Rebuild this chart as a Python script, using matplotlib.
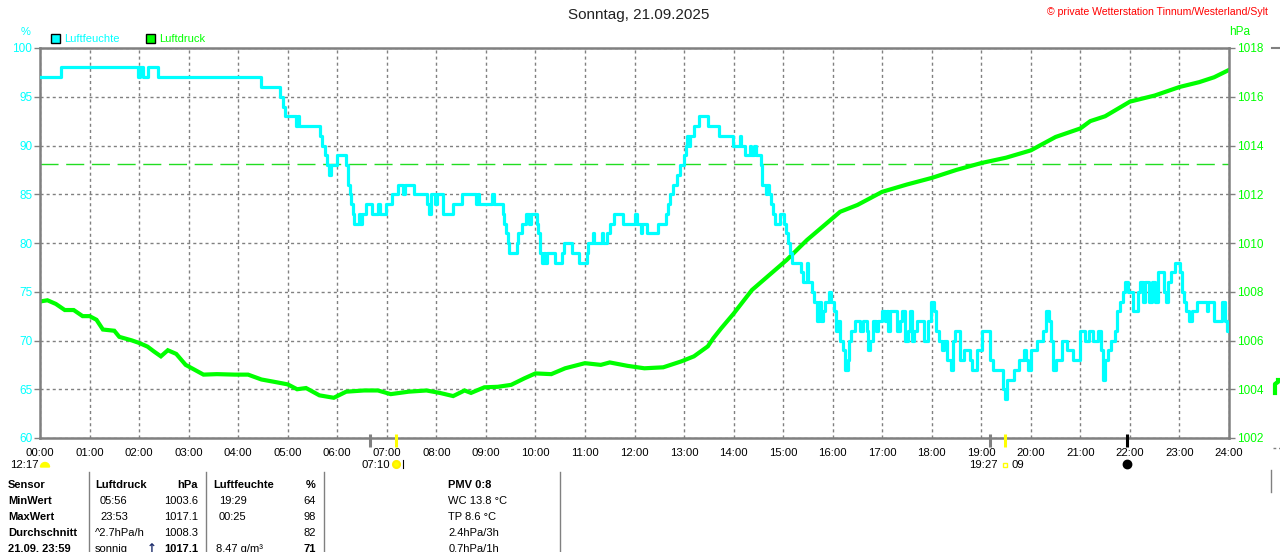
import matplotlib
matplotlib.use("Agg")
import matplotlib.pyplot as plt
import matplotlib.transforms as mtransforms
from matplotlib.patches import Rectangle, Wedge, Circle

plt.rcParams['font.family'] = ['Liberation Sans', 'DejaVu Sans']

# ---------------- data ----------------
hours = list(range(0, 25))
hour_labels = [f"{h:02d}:00" for h in hours]

hum_t = [0.00, 0.42, 1.98, 2.02, 2.08, 2.18, 2.38, 4.46, 4.85, 4.90, 4.95, 5.17, 5.20, 5.22,
         5.65, 5.70, 5.75, 5.80, 5.84, 5.88, 5.99, 6.17, 6.22, 6.25, 6.28, 6.31, 6.34, 6.44,
         6.46, 6.50, 6.58, 6.71, 6.83, 6.86, 6.98, 7.10, 7.22, 7.33, 7.37, 7.55, 7.82, 7.85,
         7.90, 7.98, 8.02, 8.13, 8.34, 8.51, 8.80, 8.84, 8.87, 9.13, 9.17, 9.34, 9.37, 9.41,
         9.44, 9.47, 9.63, 9.65, 9.72, 9.82, 9.88, 9.91, 10.03, 10.06, 10.09, 10.13, 10.18,
         10.20, 10.23, 10.40, 10.53, 10.58, 10.73, 10.87, 11.05, 11.07, 11.17, 11.19, 11.34,
         11.36, 11.44, 11.50, 11.58, 11.77, 12.02, 12.05, 12.13, 12.16, 12.25, 12.47, 12.63,
         12.68, 12.72, 12.78, 12.85, 12.92, 12.99, 13.04, 13.06, 13.11, 13.13, 13.20, 13.31,
         13.49, 13.71, 13.98, 14.12, 14.15, 14.23, 14.33, 14.36, 14.42, 14.45, 14.55, 14.58,
         14.66, 14.68, 14.71, 14.76, 14.79, 14.83, 14.93, 15.02, 15.06, 15.10, 15.13, 15.17,
         15.37, 15.41, 15.48, 15.51, 15.58, 15.63, 15.68, 15.73, 15.76, 15.81, 15.85, 15.92,
         15.96, 16.02, 16.06, 16.11, 16.14, 16.20, 16.24, 16.30, 16.32, 16.36, 16.45, 16.55,
         16.62, 16.69, 16.71, 16.76, 16.82, 16.87, 16.92, 16.99, 17.05, 17.09, 17.12, 17.16,
         17.29, 17.35, 17.40, 17.45, 17.52, 17.56, 17.60, 17.65, 17.71, 17.84, 17.93, 17.98,
         18.05, 18.09, 18.15, 18.20, 18.25, 18.30, 18.38, 18.42, 18.46, 18.58, 18.66, 18.77,
         18.82, 18.92, 19.02, 19.18, 19.23, 19.43, 19.48, 19.52, 19.66, 19.76, 19.86, 19.90,
         19.95, 20.00, 20.12, 20.25, 20.31, 20.37, 20.41, 20.45, 20.50, 20.63, 20.72, 20.86,
         21.00, 21.10, 21.18, 21.26, 21.36, 21.41, 21.45, 21.50, 21.55, 21.62, 21.69, 21.74,
         21.80, 21.86, 21.91, 21.97, 22.07, 22.16, 22.20, 22.27, 22.31, 22.38, 22.44, 22.50,
         22.56, 22.68, 22.72, 22.76, 22.82, 22.90, 23.02, 23.06, 23.10, 23.14, 23.20, 23.25,
         23.36, 23.55, 23.58, 23.70, 23.86, 23.92, 23.96, 24.00]
hum_v = [97, 98, 97, 98, 97, 98, 97, 96, 95, 94, 93, 92, 93, 92,
         91, 90, 89, 88, 87, 88, 89, 88, 86, 85, 84, 83, 82, 83,
         82, 83, 84, 83, 84, 83, 84, 85, 86, 85, 86, 85, 84, 83,
         85, 84, 85, 83, 84, 85, 84, 85, 84, 85, 84, 83, 82, 81,
         80, 79, 80, 81, 82, 83, 82, 83, 82, 81, 79, 78, 79,
         78, 79, 78, 79, 80, 79, 78, 79, 80, 81, 80, 81,
         80, 81, 82, 83, 82, 83, 82, 81, 82, 81, 82, 83,
         84, 85, 86, 87, 88, 89, 90, 91, 90, 91, 92, 93,
         92, 91, 90, 91, 90, 89, 90, 89, 90, 89, 88, 86,
         85, 86, 85, 84, 83, 82, 83, 82, 81, 80, 79, 78,
         77, 76, 78, 76, 75, 74, 72, 74, 72, 73, 74, 75,
         74, 73, 71, 72, 70, 69, 67, 68, 70, 71, 72, 71,
         72, 71, 69, 70, 72, 71, 72, 73, 72, 73, 71, 73,
         71, 72, 73, 70, 71, 73, 70, 71, 72, 70, 72, 74,
         73, 71, 70, 69, 70, 68, 67, 70, 71, 68, 69, 68,
         67, 69, 71, 68, 67, 65, 64, 66, 67, 68, 69, 68,
         67, 69, 70, 71, 73, 72, 70, 67, 68, 70, 69, 68,
         71, 70, 71, 70, 71, 69, 66, 68, 69, 70, 71, 73,
         74, 75, 76, 75, 73, 75, 76, 74, 76, 74, 76, 74,
         77, 75, 74, 76, 77, 78, 77, 75, 74, 73, 72, 73,
         74, 73, 74, 72, 74, 72, 71, 71]

press_t = [0.0, 0.15, 0.32, 0.5, 0.68, 0.86, 1.0, 1.14, 1.27, 1.5, 1.6, 1.86, 2.0, 2.17,
           2.3, 2.44, 2.58, 2.75, 2.94, 3.12, 3.3, 3.57, 3.93, 4.2, 4.47, 4.74, 5.0, 5.19,
           5.37, 5.64, 5.93, 6.18, 6.54, 6.82, 7.08, 7.44, 7.8, 8.07, 8.34, 8.57, 8.7, 8.97,
           9.24, 9.51, 9.78, 10.0, 10.32, 10.6, 11.0, 11.32, 11.5, 11.86, 12.2, 12.58, 12.94,
           13.2, 13.48, 13.59, 13.75, 13.9, 14.0, 14.37, 15.07, 15.48, 16.15, 16.5, 17.0,
           17.5, 18.0, 18.5, 19.0, 19.5, 20.0, 20.5, 21.0, 21.2, 21.5, 22.0, 22.5, 23.0,
           23.4, 23.7, 24.0]
press_v = [1007.6, 1007.65, 1007.5, 1007.25, 1007.25, 1007.0, 1007.0, 1006.85, 1006.45,
           1006.4, 1006.15, 1006.0, 1005.9, 1005.75, 1005.55, 1005.35, 1005.6, 1005.45,
           1005.0, 1004.8, 1004.6, 1004.62, 1004.6, 1004.6, 1004.4, 1004.3, 1004.2, 1004.0,
           1004.05, 1003.75, 1003.65, 1003.9, 1003.95, 1003.95, 1003.8, 1003.9, 1003.95,
           1003.85, 1003.72, 1003.95, 1003.85, 1004.08, 1004.1, 1004.18, 1004.45, 1004.65,
           1004.62, 1004.86, 1005.07, 1005.0, 1005.1, 1004.96, 1004.86, 1004.9, 1005.14,
           1005.35, 1005.76, 1006.09, 1006.5, 1006.86, 1007.1, 1008.07, 1009.3, 1010.12,
           1011.28, 1011.56, 1012.1, 1012.4, 1012.67, 1013.0, 1013.28, 1013.5, 1013.8,
           1014.35, 1014.7, 1015.0, 1015.2, 1015.8, 1016.05, 1016.4, 1016.6, 1016.8, 1017.1]

std_pressure = 1013.25
hum_ticks = [60, 65, 70, 75, 80, 85, 90, 95, 100]
press_ticks = [1002, 1004, 1006, 1008, 1010, 1012, 1014, 1016, 1018]

# sun/moon events under the time axis (hours)
event_t = [6.66, 7.18, 19.18, 19.47, 21.94]
event_c = ['#808080', '#ffff00', '#808080', '#ffff00', '#000000']

table_rows = [
    ["Sensor", "Luftdruck", "hPa", "Luftfeuchte", "%", "PMV 0:8"],
    ["MinWert", "05:56", "1003.6", "19:29", "64", "WC 13.8 °C"],
    ["MaxWert", "23:53", "1017.1", "00:25", "98", "TP 8.6 °C"],
    ["Durchschnitt", "^2.7hPa/h", "1008.3", "", "82", "2.4hPa/3h"],
    ["21.09. 23:59", "sonnig", "1017.1", "8.47 g/m³", "71", "0.7hPa/1h"],
]

CYAN = '#00ffff'
GREEN = '#00ff00'
GRAY = '#808080'

W, H = 1280, 552
fig = plt.figure(figsize=(W / 100, H / 100), dpi=100)
fig.patch.set_facecolor('white')

L, R, T, B = 40, 1229, 48, 438
rect = [L / W, 1 - B / H, (R - L) / W, (B - T) / H]
ax2 = fig.add_axes(rect)   # pressure (bottom layer, with grid)
ax = fig.add_axes(rect)    # humidity (top layer)
ax.set_zorder(3)
ax2.set_zorder(2)
ax.patch.set_visible(False)

# pressure axis
ax2.set_xlim(0, 24)
ax2.set_ylim(1002, 1018)
ax2.set_xticks(hours)
ax2.set_yticks(press_ticks)
ax2.grid(True, color=GRAY, linestyle=(0, (2.2, 2.2)), linewidth=1.0)
ax2.set_axisbelow(True)
ax2.plot(press_t, press_v, color=GREEN, linewidth=3.0, solid_joinstyle='miter', zorder=3)
ax2.axhline(std_pressure, color='#22dd22', linewidth=1.0, dashes=(13, 5.5), zorder=2)
ax2.yaxis.tick_right()
ax2.tick_params(axis='y', colors=GRAY, labelcolor=GREEN, labelsize=8.5, length=4,
                width=1, direction='out', pad=1.5)
ax2.tick_params(axis='x', length=0, labelbottom=False)
for s in ax2.spines.values():
    s.set_visible(False)

# humidity axis
ax.set_xlim(0, 24)
ax.set_ylim(60, 100)
ax.step(hum_t, hum_v, where='post', color=CYAN, linewidth=2.3, zorder=4)
ax.set_yticks(hum_ticks)
ax.set_xticks(hours)
ax.set_xticklabels(hour_labels)
ax.tick_params(axis='y', colors=GRAY, labelcolor=CYAN, labelsize=8.5, length=4,
               width=1, direction='out', pad=1.5)
ax.tick_params(axis='x', length=0, labelsize=8.2, labelcolor='black', pad=7)
for s in ax.spines.values():
    s.set_color(GRAY)
    s.set_linewidth(1.8)

# event marks under time axis
trans = mtransforms.blended_transform_factory(ax.transData, ax.transAxes)
for t, c in zip(event_t, event_c):
    ax.plot([t, t], [0.01, -0.023], transform=trans, color=c, linewidth=2.2,
            clip_on=False, zorder=6, solid_capstyle='butt')

# overlay in pixel coordinates for texts / icons
ov = fig.add_axes([0, 0, 1, 1])
ov.set_xlim(0, W)
ov.set_ylim(H, 0)
ov.axis('off')
ov.patch.set_visible(False)
ov.set_zorder(5)

ov.text(639, 15, "Sonntag, 21.09.2025", ha='center', va='center', fontsize=11, color='#222222')
ov.text(1268, 12, "© private Wetterstation Tinnum/Westerland/Sylt", ha='right', va='center',
        fontsize=7.6, color='#ff0000')
ov.text(26, 32, "%", ha='center', va='center', fontsize=8, color=CYAN)
ov.text(1240, 32, "hPa", ha='center', va='center', fontsize=8.5, color=GREEN)

ov.add_patch(Rectangle((50.5, 33.5), 9, 9, facecolor=CYAN, edgecolor='black', linewidth=1))
ov.text(64, 38.5, "Luftfeuchte", ha='left', va='center', fontsize=8, color=CYAN)
ov.add_patch(Rectangle((145.5, 33.5), 9, 9, facecolor=GREEN, edgecolor='black', linewidth=1))
ov.text(159, 38.5, "Luftdruck", ha='left', va='center', fontsize=8, color=GREEN)

# marks outside the plot at the right edge
ov.plot([1272, 1280], [48, 48], color=GRAY, linewidth=1.5)
ov.plot([1273, 1280], [448, 448], color=GRAY, linewidth=1, linestyle=(0, (2, 2)))
ov.plot([1275, 1275, 1278, 1278], [393, 384, 382, 380], color=GREEN, linewidth=3)
ov.plot([1271, 1271], [470, 492], color=GRAY, linewidth=1)

# sun / moon annotations
ann_y = 464.5
ov.text(10, ann_y, "12:17", ha='left', va='center', fontsize=8.2, color='black')
ov.add_patch(Wedge((45, 467), 4.5, 180, 360, facecolor='#ffff00', edgecolor='#ffff00'))
ov.text(376, ann_y, "07:10", ha='center', va='center', fontsize=8.2, color='black')
ov.add_patch(Circle((396.5, 464.5), 3.5, facecolor='#ffff00', edgecolor='#ffee00', linewidth=1.5))
ov.plot([402.5, 402.5], [460, 468], color='black', linewidth=0.8)
ov.text(998, ann_y, "19:27", ha='right', va='center', fontsize=8.2, color='black')
ov.add_patch(Rectangle((1002.5, 462.5), 4.5, 4.5, facecolor='none', edgecolor='#ffff00', linewidth=1))
ov.text(1011, ann_y, "09", ha='left', va='center', fontsize=8.2, color='black')
ov.add_patch(Circle((1127.5, 464.5), 4.2, facecolor='black', edgecolor='black'))

# table
for xs in [88.8, 206, 324, 559.5]:
    ov.plot([xs, xs], [472, 552], color=GRAY, linewidth=1)

row_y = [485, 501, 517, 533, 549]
for i, (row, y) in enumerate(zip(table_rows, row_y)):
    header = (i == 0)
    last = (i == len(table_rows) - 1)
    fw = 'bold' if header else 'normal'
    ov.text(8, y, row[0], ha='left', va='center', fontsize=8, fontweight='bold', color='black')
    x1 = 95 if (header or i == 3 or last) else 100
    ov.text(x1, y, row[1], ha='left', va='center', fontsize=8, fontweight=fw, color='black')
    ov.text(198, y, row[2], ha='right', va='center', fontsize=8,
            fontweight='bold' if (header or last) else 'normal', color='black')
    if last:
        ov.text(157, y, "↑", ha='right', va='center', fontsize=8.5, fontweight='bold',
                color='#1a2a6a', family=['DejaVu Sans'])
    x3 = 213 if header else (216 if last else 219)
    ov.text(x3, y, row[3], ha='left', va='center', fontsize=8, fontweight=fw, color='black')
    ov.text(316, y, row[4], ha='right', va='center', fontsize=8,
            fontweight='bold' if (header or last) else 'normal', color='black')
    ov.text(448.5, y, row[5], ha='left', va='center', fontsize=8, fontweight=fw, color='black')

fig.savefig("out.png", dpi=100)
